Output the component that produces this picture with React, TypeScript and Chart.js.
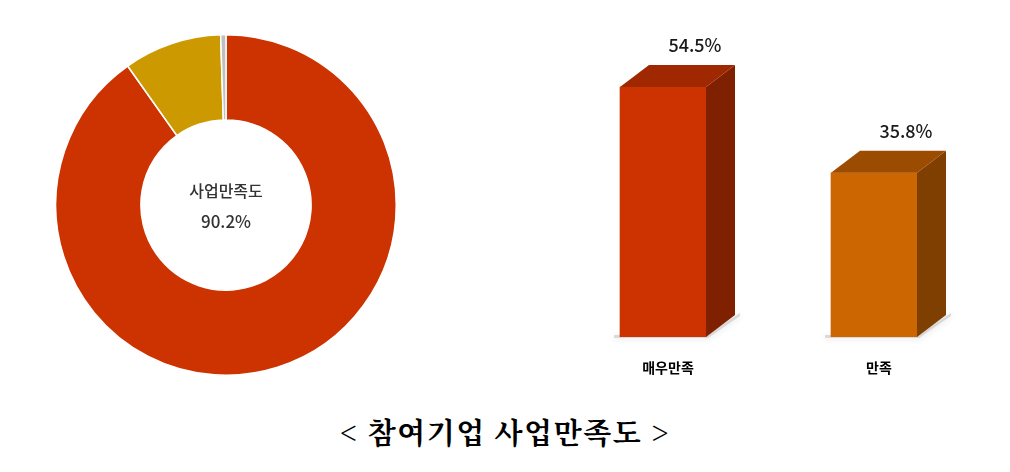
import { useEffect, useRef } from "react";
import { Chart, registerables } from "chart.js";

Chart.register(...registerables);

// doughnut: 사업만족도
const pieLabels = ["만족 이상", "보통", "불만족"];
const pieValues = [90.2, 9.3, 0.5];
const pieColors = ["#CC3300", "#CC9900", "#BFBFBF"];
const centerTitle = "사업만족도";
const centerValue = "90.2%";

// 3D bars
const barLabels = ["매우만족", "만족"];
const barValues = [54.5, 35.8];
const barFront = ["#CC3300", "#CC6600"];
const barSide = ["#7F2000", "#7F3F00"];
const barTop = ["#A02800", "#9C4C00"];

const chartTitle = "< 참여기업 사업만족도 >";

const FONT = "'Noto Sans CJK KR', 'Noto Sans', sans-serif";
const DEPTH_X = 29;
const DEPTH_Y = 22;

const centerTextPlugin = {
  id: "centerText",
  afterDraw(chart: Chart) {
    const { ctx, chartArea } = chart;
    const cx = (chartArea.left + chartArea.right) / 2;
    const cy = (chartArea.top + chartArea.bottom) / 2;
    ctx.save();
    ctx.fillStyle = "#333333";
    ctx.textAlign = "center";
    ctx.textBaseline = "middle";
    ctx.font = `500 16px ${FONT}`;
    ctx.fillText(centerTitle, cx, cy - 14);
    ctx.font = `500 17px ${FONT}`;
    ctx.fillText(centerValue, cx, cy + 17);
    ctx.restore();
  },
};

const box3dPlugin = {
  id: "box3d",
  beforeDatasetsDraw(chart: Chart) {
    const { ctx } = chart;
    const meta = chart.getDatasetMeta(0);
    ctx.save();
    meta.data.forEach((bar: any) => {
      const p = bar.getProps(["x", "y", "base", "width"], true);
      const l = p.x - p.width / 2;
      const r = p.x + p.width / 2;
      // soft floor shadow
      ctx.save();
      ctx.shadowColor = "rgba(0,0,0,0.35)";
      ctx.shadowBlur = 7;
      ctx.shadowOffsetY = 1;
      ctx.fillStyle = "rgba(160,160,160,0.35)";
      ctx.beginPath();
      ctx.moveTo(l - 6, p.base - 2);
      ctx.lineTo(r, p.base - 2);
      ctx.lineTo(r + DEPTH_X + 5, p.base - DEPTH_Y - 2);
      ctx.lineTo(r + DEPTH_X + 5, p.base - DEPTH_Y + 1);
      ctx.lineTo(r + 2, p.base + 1);
      ctx.lineTo(l - 6, p.base + 1);
      ctx.closePath();
      ctx.fill();
      ctx.restore();
    });
    ctx.restore();
  },
  afterDatasetsDraw(chart: Chart) {
    const { ctx } = chart;
    const meta = chart.getDatasetMeta(0);
    ctx.save();
    meta.data.forEach((bar: any, i: number) => {
      const p = bar.getProps(["x", "y", "base", "width"], true);
      const l = p.x - p.width / 2;
      const r = p.x + p.width / 2;
      // side face
      ctx.fillStyle = barSide[i];
      ctx.beginPath();
      ctx.moveTo(r, p.y);
      ctx.lineTo(r + DEPTH_X, p.y - DEPTH_Y);
      ctx.lineTo(r + DEPTH_X, p.base - DEPTH_Y);
      ctx.lineTo(r, p.base);
      ctx.closePath();
      ctx.fill();
      // top face
      ctx.fillStyle = barTop[i];
      ctx.beginPath();
      ctx.moveTo(l, p.y);
      ctx.lineTo(r, p.y);
      ctx.lineTo(r + DEPTH_X, p.y - DEPTH_Y);
      ctx.lineTo(l + DEPTH_X, p.y - DEPTH_Y);
      ctx.closePath();
      ctx.fill();
      // value label
      ctx.fillStyle = "#1a1a1a";
      ctx.textAlign = "center";
      ctx.textBaseline = "middle";
      ctx.font = `500 18px ${FONT}`;
      ctx.fillText(`${barValues[i]}%`, p.x + 32, p.y - DEPTH_Y - 20);
      // category label
      ctx.fillStyle = "#000000";
      ctx.font = `bold 14px ${FONT}`;
      ctx.fillText(barLabels[i], p.x + 5, p.base + 31);
    });
    ctx.restore();
  },
};

function DoughnutChart() {
  const canvasRef = useRef<HTMLCanvasElement>(null);
  const chartRef = useRef<Chart | null>(null);

  useEffect(() => {
    if (!canvasRef.current) return;
    if (chartRef.current) chartRef.current.destroy();
    const ctx = canvasRef.current.getContext("2d");
    if (!ctx) return;

    chartRef.current = new Chart(ctx, {
      type: "doughnut",
      data: {
        labels: pieLabels,
        datasets: [
          {
            data: pieValues,
            backgroundColor: pieColors,
            borderColor: "#FFFFFF",
            borderWidth: 1.5,
          },
        ],
      },
      options: {
        animation: false,
        responsive: true,
        maintainAspectRatio: false,
        cutout: "50%",
        layout: { padding: 0 },
        plugins: {
          legend: { display: false },
          tooltip: { enabled: false },
        },
      },
      plugins: [centerTextPlugin],
    });

    return () => {
      if (chartRef.current) {
        chartRef.current.destroy();
        chartRef.current = null;
      }
    };
  }, []);

  return (
    <div style={{ position: "absolute", left: 55, top: 34, width: 342, height: 342 }}>
      <canvas ref={canvasRef} />
    </div>
  );
}

function BarChart() {
  const canvasRef = useRef<HTMLCanvasElement>(null);
  const chartRef = useRef<Chart | null>(null);

  useEffect(() => {
    if (!canvasRef.current) return;
    if (chartRef.current) chartRef.current.destroy();
    const ctx = canvasRef.current.getContext("2d");
    if (!ctx) return;

    chartRef.current = new Chart(ctx, {
      type: "bar",
      data: {
        labels: barLabels,
        datasets: [
          {
            data: barValues,
            backgroundColor: barFront,
            borderWidth: 0,
            barThickness: 86,
          },
        ],
      },
      options: {
        animation: false,
        responsive: true,
        maintainAspectRatio: false,
        layout: { padding: { left: 7.5, right: 10.5, top: 16, bottom: 63 } },
        plugins: {
          legend: { display: false },
          tooltip: { enabled: false },
        },
        scales: {
          x: { display: false },
          y: { display: false, min: 0, max: 70 },
        },
      },
      plugins: [box3dPlugin],
    });

    return () => {
      if (chartRef.current) {
        chartRef.current.destroy();
        chartRef.current = null;
      }
    };
  }, []);

  return (
    <div style={{ position: "absolute", left: 550, top: 0, width: 440, height: 400 }}>
      <canvas ref={canvasRef} />
    </div>
  );
}

export default function App() {
  return (
    <div
      style={{
        position: "fixed",
        left: 0,
        top: 0,
        width: 1010,
        height: 472,
        background: "#FFFFFF",
        overflow: "hidden",
      }}
    >
      <DoughnutChart />
      <BarChart />
      <div
        style={{
          position: "absolute",
          left: 0,
          width: 1010,
          top: 411,
          textAlign: "center",
          fontFamily: "'Noto Serif CJK KR', 'Noto Sans CJK KR', serif",
          fontWeight: 700,
          fontSize: 29,
          letterSpacing: 1.5,
          lineHeight: "42px",
          color: "#000000",
        }}
      >
        {chartTitle}
      </div>
    </div>
  );
}
